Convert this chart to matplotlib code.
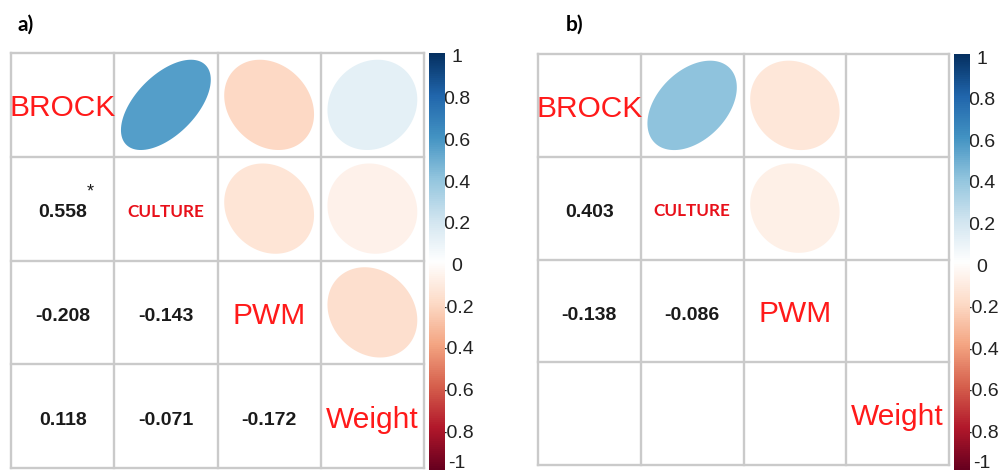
import numpy as np
import matplotlib
matplotlib.use("Agg")
import matplotlib.pyplot as plt
from matplotlib.colors import LinearSegmentedColormap, Normalize
from matplotlib.patches import Polygon

# ---------------- data ----------------
variables = ["BROCK", "CULTURE", "PWM", "Weight"]
pairs = [(0, 1), (0, 2), (0, 3), (1, 2), (1, 3), (2, 3)]
corr_a = [0.558, -0.208, 0.118, -0.143, -0.071, -0.172]
corr_b = [0.403, -0.138, np.nan, -0.086, np.nan, np.nan]
sig_a = [True, False, False, False, False, False]
sig_b = [False, False, False, False, False, False]
panel_titles = ["a)", "b)"]
cbar_ticks = [1, 0.8, 0.6, 0.4, 0.2, 0, -0.2, -0.4, -0.6, -0.8, -1]
cbar_labels = ["1", "0.8", "0.6", "0.4", "0.2", "0", "-0.2", "-0.4", "-0.6", "-0.8", "-1"]

# ---------------- style ----------------
W, H = 1006, 474
fig = plt.figure(figsize=(W / 100, H / 100), dpi=100)
fig.patch.set_facecolor("white")

cmap = LinearSegmentedColormap.from_list(
    "corrRdBu",
    ["#67001F", "#B2182B", "#D6604D", "#F4A582", "#FDDBC7", "#FFFFFF",
     "#D1E5F0", "#92C5DE", "#4393C3", "#2166AC", "#053061"], N=200)
norm = Normalize(-1, 1)


def ax_px(x0, y0, x1, y1):
    return fig.add_axes([x0 / W, 1 - y1 / H, (x1 - x0) / W, (y1 - y0) / H])


def draw_panel(box, cbox, title_xy, title, corr, sig):
    ax = ax_px(*box)
    n = len(variables)
    ax.set_xlim(0, n)
    ax.set_ylim(n, 0)
    ax.axis("off")
    mat = np.full((n, n), np.nan)
    sigm = np.zeros((n, n), dtype=bool)
    for (i, j), r, s in zip(pairs, corr, sig):
        mat[i, j] = r
        mat[j, i] = r
        sigm[j, i] = s
    # grid
    for k in range(n + 1):
        ax.plot([k, k], [0, n], color="#cacaca", lw=1.7, clip_on=False, zorder=1)
        ax.plot([0, n], [k, k], color="#cacaca", lw=1.7, clip_on=False, zorder=1)
    t = np.linspace(0, 2 * np.pi, 120)
    sc = 0.87
    for i in range(n):
        for j in range(n):
            cx, cy = j + 0.5, i + 0.5
            if i == j:
                if variables[i] == "CULTURE":
                    ax.text(cx, cy + 0.08, variables[i], color="#e8101a",
                            fontsize=12.3, family="Lato", weight="bold",
                            ha="center", va="baseline", zorder=3)
                else:
                    ax.text(cx, cy + 0.11, variables[i], color="#ff1a1a",
                            fontsize=21.5, family="Liberation Sans",
                            ha="center", va="baseline", zorder=3)
                continue
            r = mat[i, j]
            if np.isnan(r):
                continue
            if i < j:
                d = np.arccos(r)
                xs = cx + sc * np.cos(t + d / 2) / 2
                ys = cy - sc * np.cos(t - d / 2) / 2
                ax.add_patch(Polygon(np.column_stack([xs, ys]), closed=True,
                                     facecolor=cmap(norm(r)), edgecolor="none",
                                     zorder=2))
            else:
                ax.text(cx, cy + 0.085, f"{r:.3f}", color="#1a1a1a",
                        fontsize=14, family="Liberation Sans", weight="bold",
                        ha="center", va="baseline", zorder=3)
                if sigm[i, j]:
                    ax.text(cx + 0.27, cy - 0.16, "*", color="#1a1a1a",
                            fontsize=13, family="Liberation Sans",
                            ha="center", va="center", zorder=3)
    # colorbar
    cax = ax_px(*cbox)
    cax.imshow(np.linspace(1, -1, 400).reshape(-1, 1), aspect="auto",
               cmap=cmap, norm=norm, extent=[0, 1, -1, 1])
    cax.axis("off")
    cax.set_zorder(5)
    x0, y0, x1, y1 = cbox
    for v, lab in zip(cbar_ticks, cbar_labels):
        ypix = y0 + (1 - v) / 2 * (y1 - y0) + 5
        ypix = min(ypix, H - 10)
        fig.text((x1 + 12) / W, 1 - ypix / H, lab, fontsize=14,
                 family="Liberation Sans", color="#222222",
                 ha="center", va="center", zorder=3)
    fig.text(title_xy[0] / W, 1 - title_xy[1] / H, title, fontsize=15,
             family="Lato", weight="bold", color="black",
             ha="left", va="baseline")


draw_panel((11, 53, 424, 468), (429, 53, 445, 470), (18, 31),
           panel_titles[0], corr_a, sig_a)
draw_panel((538, 54, 949, 465), (954, 54, 970, 470), (566, 31),
           panel_titles[1], corr_b, sig_b)

fig.savefig("out.png", dpi=100)
